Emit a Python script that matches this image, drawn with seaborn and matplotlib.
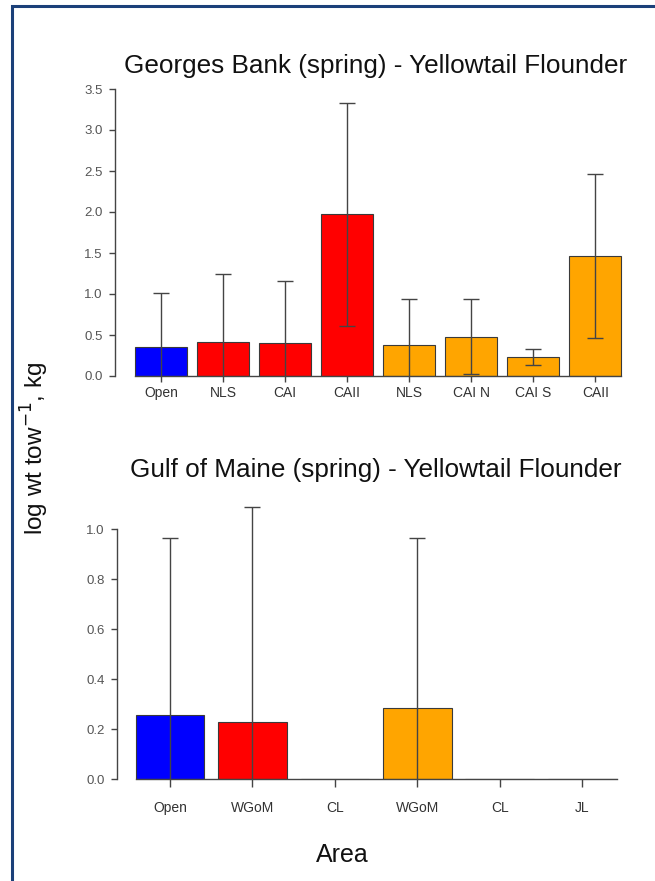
import numpy as np
import pandas as pd
import matplotlib
matplotlib.use("Agg")
import matplotlib.pyplot as plt
from matplotlib.patches import Rectangle
import seaborn as sns

sns.set_theme(style="white")
plt.rcParams["font.family"] = ["Liberation Sans", "DejaVu Sans"]

# Georges Bank (spring)
gb_labels = ["Open", "NLS", "CAI", "CAII", "NLS", "CAI N", "CAI S", "CAII"]
gb_mean = [0.35, 0.41, 0.40, 1.97, 0.38, 0.48, 0.23, 1.46]
gb_err = [0.66, 0.83, 0.76, 1.36, 0.56, 0.46, 0.10, 1.00]
gb_group = ["open", "closed", "closed", "closed", "sector", "sector", "sector", "sector"]

# Gulf of Maine (spring)
gom_labels = ["Open", "WGoM", "CL", "WGoM", "CL", "JL"]
gom_mean = [0.256, 0.228, 0.0, 0.283, 0.0, 0.0]
gom_err = [0.71, 0.86, 0.0, 0.68, 0.0, 0.0]
gom_group = ["open", "closed", "closed", "sector", "sector", "sector"]

group_colors = {"open": "#0000ff", "closed": "#ff0000", "sector": "#ffa500"}

W, H = 655, 881
fig = plt.figure(figsize=(W / 100, H / 100), dpi=100)
fig.patch.set_facecolor("white")


def px_axes(left, right, top, bottom):
    return fig.add_axes([left / W, 1 - bottom / H, (right - left) / W, (bottom - top) / H])


def draw_panel(ax, labels, means, errs, groups, ymax, ticks, xlim, xtick_pad, xtick_len):
    n = len(labels)
    df = pd.DataFrame({"pos": np.arange(n), "val": means, "grp": groups})
    sns.barplot(data=df, x="pos", y="val", hue="pos", order=list(range(n)),
                palette=[group_colors[g] for g in groups], legend=False,
                width=0.833, edgecolor="#3a3a3a", linewidth=0.8, saturation=1,
                native_scale=True, ax=ax)
    means_a = np.asarray(means)
    errs_a = np.asarray(errs)
    keep = errs_a > 0
    idx = np.arange(n)[keep]
    ax.errorbar(idx, means_a[keep], yerr=errs_a[keep], fmt="none",
                ecolor="#444444", elinewidth=1.0, capsize=5.5, capthick=1.0,
                zorder=5, clip_on=True)
    ax.set_xlim(*xlim)
    ax.set_ylim(0, ymax)
    ax.set_xticks(range(n))
    ax.set_xticklabels(labels, fontsize=10, color="#333333")
    ax.set_yticks(ticks)
    ax.set_yticklabels(["{:.1f}".format(t) for t in ticks], fontsize=9.5, color="#555555")
    ax.set_xlabel("")
    ax.set_ylabel("")
    for s in ["top", "right"]:
        ax.spines[s].set_visible(False)
    ax.spines["left"].set_bounds(ticks[0], ticks[-1])
    ax.spines["bottom"].set_bounds(-0.417, n - 1 + 0.417)
    for s in ["left", "bottom"]:
        ax.spines[s].set_color("#444444")
        ax.spines[s].set_linewidth(1.0)
    ax.tick_params(axis="y", left=True, direction="out", length=4, width=1.0,
                   color="#444444", pad=5)
    ax.tick_params(axis="x", bottom=True, direction="out", length=xtick_len, width=1.0,
                   color="#444444", pad=xtick_pad)
    ax.patch.set_alpha(0)


ax1 = px_axes(115, 630, 89, 376)
draw_panel(ax1, gb_labels, gb_mean, gb_err, gb_group, 3.5,
           [0.0, 0.5, 1.0, 1.5, 2.0, 2.5, 3.0, 3.5], (-0.742, 7.56), 3, 4)

ax2 = px_axes(117, 630, 499, 779)
draw_panel(ax2, gom_labels, gom_mean, gom_err, gom_group, 1.12,
           [0.0, 0.2, 0.4, 0.6, 0.8, 1.0], (-0.643, 5.58), 10, 6)

fig.text(376 / W, 1 - 66 / H, "Georges Bank (spring) - Yellowtail Flounder",
         ha="center", va="center", fontsize=18.8, color="#111111")
fig.text(376 / W, 1 - 470 / H, "Gulf of Maine (spring) - Yellowtail Flounder",
         ha="center", va="center", fontsize=18.8, color="#111111")
fig.text(35 / W, 1 - 448 / H, r"log wt tow$^{-1}$, kg", rotation=90,
         ha="center", va="center", fontsize=17.5, color="#111111")
fig.text(342 / W, 1 - 855 / H, "Area", ha="center", va="center",
         fontsize=18, color="#111111")

# frame around the figure
fig.patches.append(Rectangle((12 / W, -0.1), 1.2, 1 - 6 / H + 0.1,
                             transform=fig.transFigure, fill=False,
                             edgecolor="#1b4079", linewidth=2.2, zorder=10))

fig.savefig("out.png", dpi=100, facecolor="white")
